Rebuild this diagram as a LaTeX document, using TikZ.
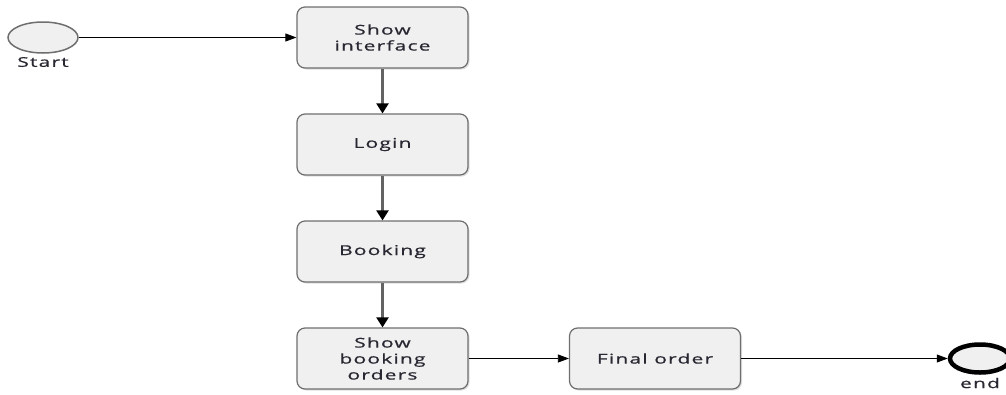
\documentclass[tikz,border=0pt]{standalone}
\usepackage{fontspec}
\setmainfont[FakeStretch=1.55,LetterSpace=9,FakeBold=0.8]{Open Sans}
\usetikzlibrary{arrows.meta,shadows,shapes.geometric}
\definecolor{BoxClr}{RGB}{240,240,240}
\definecolor{EdgeClr}{RGB}{110,110,110}
\definecolor{TxtClr}{RGB}{40,40,50}

\begin{document}
\begin{tikzpicture}[x=1pt,y=-1pt,
  task/.style={draw=EdgeClr,line width=1.2pt,fill=BoxClr,rounded corners=8pt,
    minimum width=171pt,minimum height=61pt,inner sep=0pt,align=center,
    text=TxtClr,font=\fontsize{13.5}{16}\selectfont,
    drop shadow={shadow xshift=1.5pt,shadow yshift=-1.5pt,opacity=0.25}},
  event/.style={ellipse,draw=EdgeClr,fill=BoxClr,minimum width=70pt,minimum height=31pt,inner sep=0pt},
  lbl/.style={text=TxtClr,font=\fontsize{13.5}{16}\selectfont,inner sep=0pt},
  flow/.style={draw=black,line width=0.8pt,-{Triangle[length=11pt,width=8pt]}},
  down/.style={draw=EdgeClr!90!black,line width=2.2pt,-{Triangle[length=10pt,width=12pt,color=black]}}]
\useasboundingbox (0,0) rectangle (1006,394);
\clip (0,0) rectangle (1006,394);

\node[event,line width=1.5pt] (start) at (43,37.5) {};
\node[lbl] (startlbl) at (43,62) {Start};

\node[task] (show) at (382.5,37.5) {Show\\interface};
\node[task] (login) at (382.5,144.5) {Login};
\node[task] (booking) at (382.5,251.5) {Booking};
\node[task] (orders) at (382.5,358.5) {Show\\booking\\orders};
\node[task] (final) at (655,358.5) {Final order};

\node[event,draw=black,line width=4.5pt,minimum width=60pt,minimum height=28pt] (end) at (980,358.5) {};
\node[lbl] (endlbl) at (980,383) {end};

\draw[flow] (start) -- (show);
\draw[down] (show) -- (login);
\draw[down] (login) -- (booking);
\draw[down] (booking) -- (orders);
\draw[flow] (orders) -- (final);
\draw[flow] (final) -- (end);

\end{tikzpicture}
\end{document}
